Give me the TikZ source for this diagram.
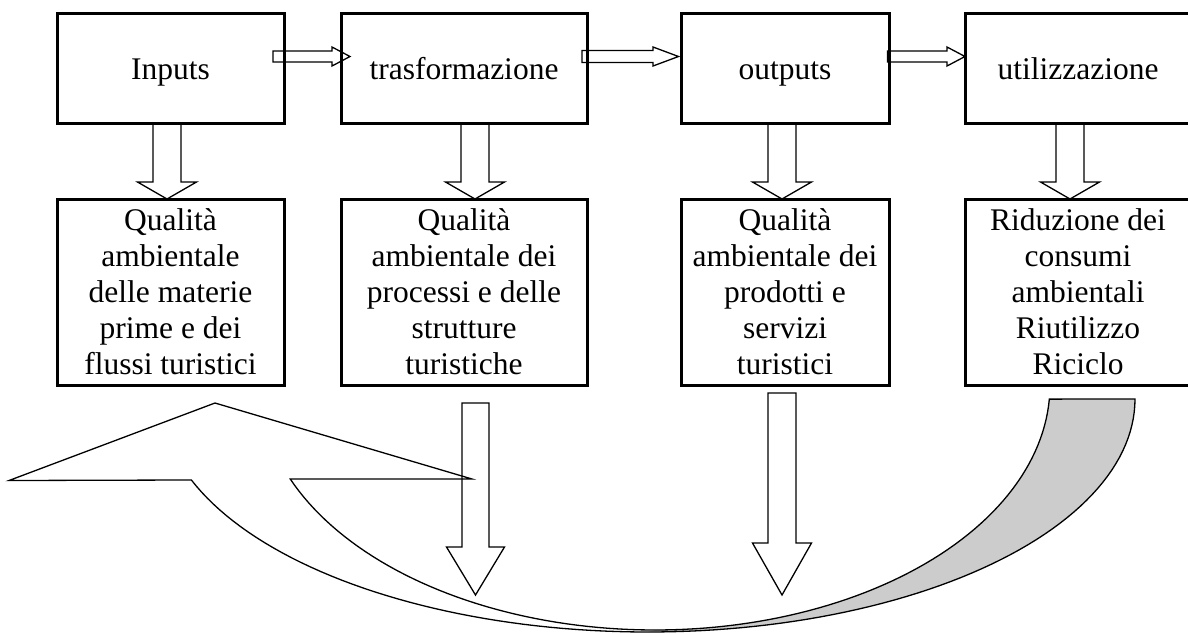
\documentclass[tikz,border=0pt]{standalone}
\usepackage{fontspec}
\setmainfont{Liberation Serif}
\definecolor{backgrey}{RGB}{204,204,204}
\tikzset{
  box/.style={draw, line width=3pt, inner sep=0pt, align=center, font=\fontsize{31.5}{36}\selectfont},
  topbox/.style={box, text height=66pt, text depth=44pt, minimum width=#1},
  lowbox/.style={box, minimum height=186pt, minimum width=#1},
  blockarrow/.style={draw, line width=1.3pt, line join=miter},
  curvearrow/.style={draw, line width=1.3pt, line join=miter},
}
\newcommand\firstl{\rule{0pt}{30.8pt}}
\newcommand\lastl{\rule[-10.8pt]{0pt}{10.8pt}}
% down block arrow: xc, ytop, ytip, shaft half, head half, head length
\newcommand\bdarrow[6]{\draw[blockarrow] ({#1-#4},#2) -- ({#1-#4},{#3-#6}) -- ({#1-#5},{#3-#6}) -- (#1,#3) -- ({#1+#5},{#3-#6}) -- ({#1+#4},{#3-#6}) -- ({#1+#4},#2) -- cycle;}
% right block arrow: x0, xtip, yc, shaft half, head half, head base x
\newcommand\brarrow[6]{\draw[blockarrow] (#1,{#3-#4}) -- (#6,{#3-#4}) -- (#6,{#3-#5}) -- (#2,#3) -- (#6,{#3+#5}) -- (#6,{#3+#4}) -- (#1,{#3+#4}) -- cycle;}
\begin{document}
\begin{tikzpicture}[x=1pt,y=-1pt]
\useasboundingbox (0,0) rectangle (1188,633);
% curved return arrow
\fill[backgrey] plot[domain=0:90,samples=60] ({648+487*cos(\x)},{399+233*sin(\x)})
  -- plot[domain=0:86.7,samples=60] ({655+395*cos(90-\x)},{385+245*sin(90-\x)}) -- cycle;
\draw[curvearrow] plot[domain=0:159.66,samples=100] ({648+487*cos(\x)},{399+233*sin(\x)})
  -- (9,480.5) -- (215,403) -- (472,479)
  -- plot[domain=3.3:157.44,samples=100] ({655+395*cos(160.74-\x)},{385+245*sin(160.74-\x)}) -- cycle;
% top boxes
\node[topbox=227pt] (b1) at (170.5,68) {Inputs};
\node[topbox=246pt] (b2) at (464,68) {trasformazione};
\node[topbox=208pt] (b3) at (785,68) {outputs};
\node[topbox=226pt] (b4) at (1078,68) {utilizzazione};
% bottom boxes
\node[lowbox=227pt] (q1) at (170.5,292) {\firstl Qualità\\ambientale\\delle materie\\prime e dei\\flussi turistici\lastl};
\node[lowbox=246pt] (q2) at (464,292) {\firstl Qualità\\ambientale dei\\processi e delle\\strutture\\turistiche\lastl};
\node[lowbox=208pt] (q3) at (785,292) {\firstl Qualità\\ambientale dei\\prodotti e\\servizi\\turistici\lastl};
\node[lowbox=226pt] (q4) at (1078,292) {\firstl Riduzione dei\\consumi\\ambientali\\Riutilizzo\\Riciclo\lastl};
% horizontal arrows
\brarrow{273}{350}{56.5}{5.5}{9.5}{332}
\brarrow{582}{678.5}{56.5}{6}{9.5}{653}
\brarrow{887.5}{965}{56.5}{5.5}{9.5}{947}
% short down arrows
\bdarrow{167}{123}{199}{14}{29.5}{17}
\bdarrow{475}{123}{199}{14}{29.5}{17}
\bdarrow{782}{123}{199}{14}{29.5}{17}
\bdarrow{1070}{123}{199}{14}{29.5}{17}
% long down arrows
\bdarrow{475.5}{403}{595}{13.5}{29}{48}
\bdarrow{782}{393}{595}{14}{29.5}{52}
\end{tikzpicture}
\end{document}
